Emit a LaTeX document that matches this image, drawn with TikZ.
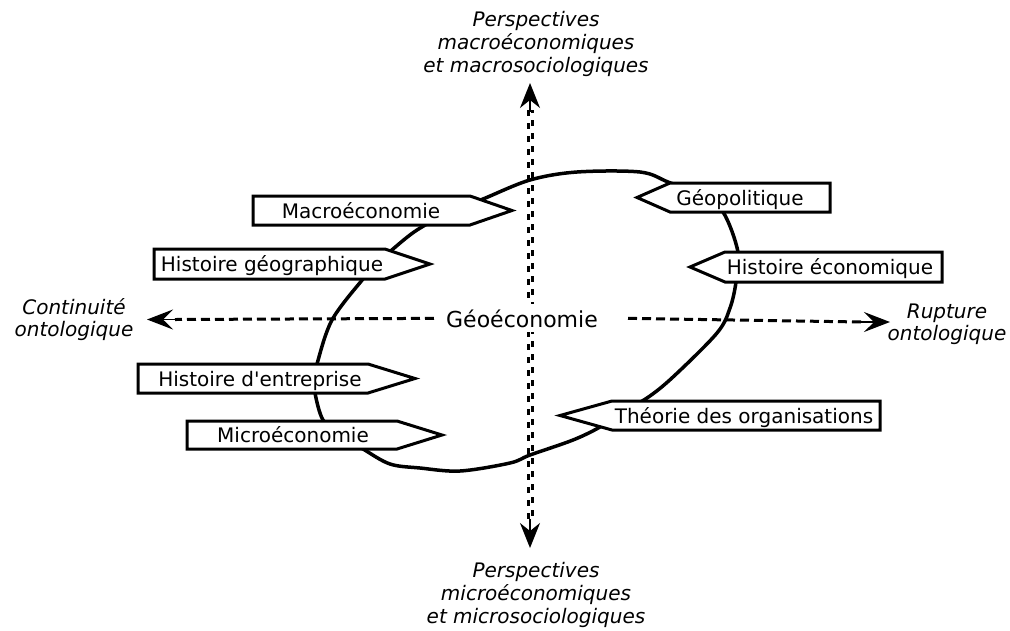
\documentclass[tikz,border=0pt]{standalone}
\usepackage{fontspec}
\setmainfont{DejaVu Sans}
\usetikzlibrary{arrows.meta}
\begin{document}
\begin{tikzpicture}[x=1pt,y=-1pt,
  tag/.style={draw, line width=3pt, fill=white, line join=miter},
  lbl/.style={font=\fontsize{20}{24}\selectfont, inner sep=0pt, anchor=base},
  axlbl/.style={font=\fontsize{20}{23}\selectfont\itshape, align=center, inner sep=0pt},
  loopline/.style={line width=3.5pt, line join=round},
  hdash/.style={line width=3pt, dash pattern=on 9pt off 5pt},
  vdash/.style={line width=2.6pt, dash pattern=on 6pt off 7pt},
  tipv/.style={line width=1.5pt, -{Stealth[length=25pt,width=20pt,inset=8pt]}},
  tiph/.style={line width=1.5pt, -{Stealth[length=26pt,width=20pt,inset=10pt]}},
  ]
\useasboundingbox (0,0) rectangle (1010,630);

% axis labels
\node[axlbl] (top) at (536,44) {Perspectives\\macroéconomiques\\et macrosociologiques};
\node[axlbl] (bot) at (536,595) {Perspectives\\microéconomiques\\et microsociologiques};
\node[axlbl, font=\fontsize{20}{22}\selectfont\itshape] (left) at (74,320) {Continuité\\ontologique};
\node[axlbl, font=\fontsize{20}{22}\selectfont\itshape] (right) at (947,324) {Rupture\\ontologique};

% vertical double dashed axis
\coordinate (vtop) at (530,83);
\coordinate (vbot) at (530,548);
\coordinate (va1) at (528.3,110);
\coordinate (vb1) at (528.3,521);
\coordinate (va2) at (532.3,110);
\coordinate (vb2) at (532.3,521);
\draw[vdash] (va1) -- (vb1);
\draw[vdash, dash phase=3pt] (va2) -- (vb2);
\draw[tipv] (530,112) -- (vtop);
\draw[tipv] (530,519) -- (vbot);

% central loop
\draw[loopline] plot[smooth cycle, tension=0.55] coordinates {
 (483,199) (530,180) (577,172) (640,172) (668,182) (700,195) (723,212)
 (738,252) (736,282) (730,308) (717,333) (673,377) (647,398) (620,413)
 (600,427) (573,440) (530,455) (510,463) (460,471) (420,468) (390,464)
 (363,449) (340,435) (323,420) (315,393) (315,378) (317,364) (332,320)
 (363,279) (378,263) (393,249) (417,230) (450,212)};

% tags pointing right
\draw[tag] (253,196) -- (470,196) -- (512,210.5) -- (470,225) -- (253,225) -- cycle;
\node[lbl] (macro) at (361,218) {Macroéconomie};
\draw[tag] (154,249) -- (385,249) -- (430,264) -- (385,279) -- (154,279) -- cycle;
\node[lbl] (hgeo) at (272,271.5) {Histoire géographique};
\draw[tag] (138,364) -- (368,364) -- (415,378.5) -- (368,393) -- (138,393) -- cycle;
\node[lbl] (hent) at (260,386) {Histoire d\textquotesingle entreprise};
\draw[tag] (187,421) -- (397,421) -- (442,435) -- (397,449) -- (187,449) -- cycle;
\node[lbl] (micro) at (293,442.5) {Microéconomie};

% tags pointing left
\draw[tag] (637,197.5) -- (670,183) -- (830,183) -- (830,212) -- (670,212) -- cycle;
\node[lbl] (geop) at (740,205) {Géopolitique};
\draw[tag] (690,267) -- (725,252) -- (942,252) -- (942,282) -- (725,282) -- cycle;
\node[lbl] (heco) at (830,274.5) {Histoire économique};
\draw[tag] (560,415.5) -- (612,401) -- (880,401) -- (880,430) -- (612,430) -- cycle;
\node[lbl] (theo) at (744,423) {Théorie des organisations};

% centre and horizontal axis
\node[font=\fontsize{22}{26}\selectfont, fill=white, inner xsep=12pt, inner ysep=0pt,
      minimum height=28pt, anchor=base] (geo) at (522,327) {Géoéconomie};
\coordinate (htipL) at (147,319.5);
\coordinate (htipR) at (890,322);
\draw[hdash] (geo.west) -- (175,319.5);
\draw[tiph] (177,319.5) -- (htipL);
\draw[hdash] ([xshift=18pt]geo.east) -- (862,322);
\draw[tiph] (860,322) -- (htipR);
\end{tikzpicture}
\end{document}
